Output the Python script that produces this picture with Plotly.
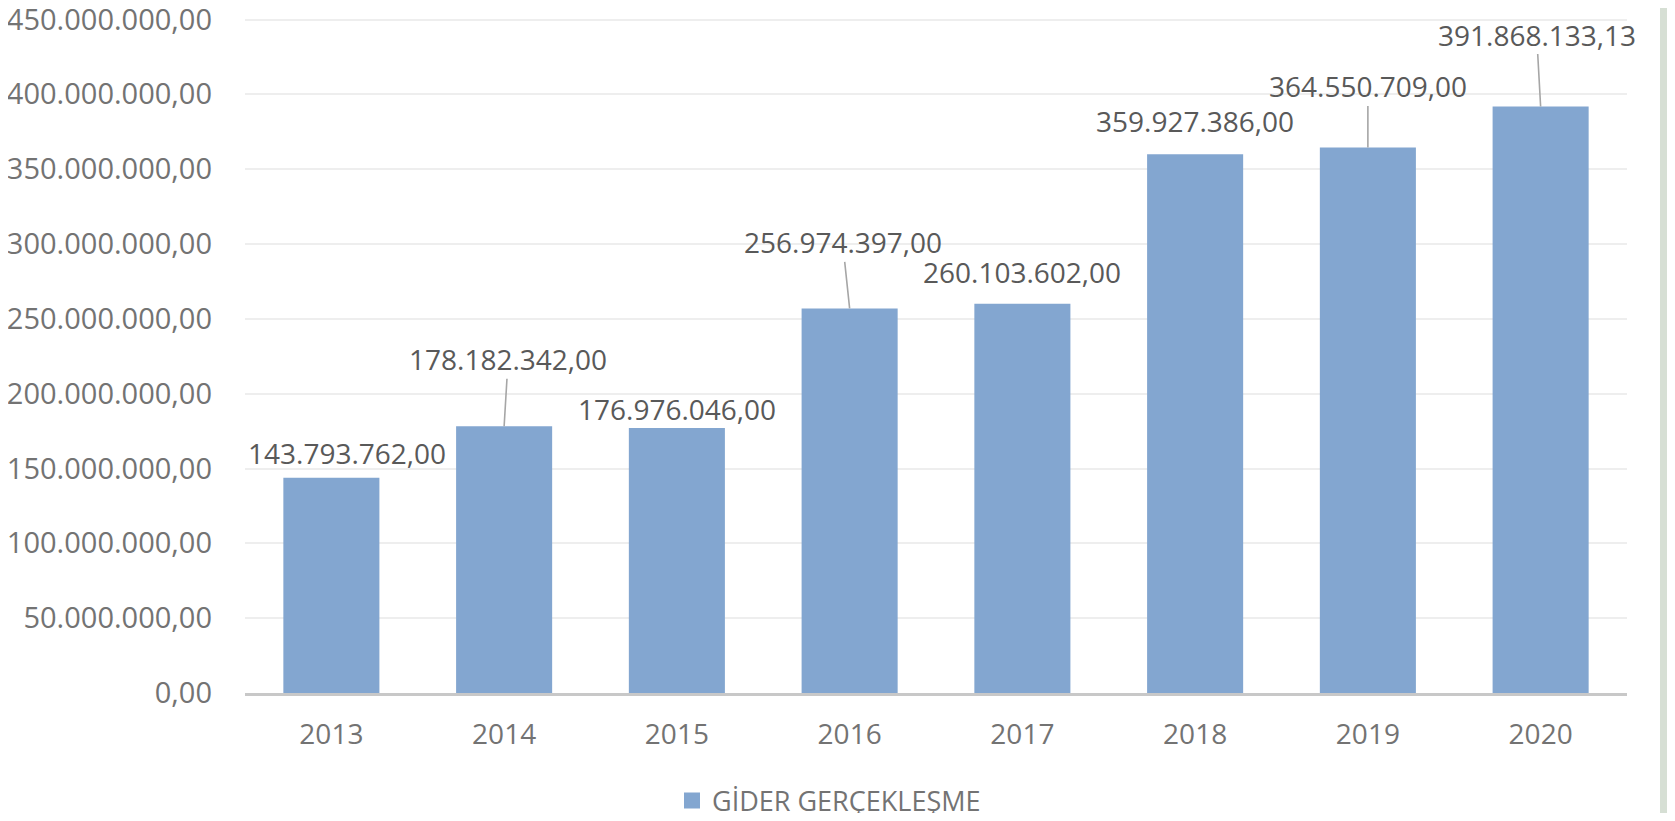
import plotly.graph_objects as go

# ---- data ----
years = ["2013", "2014", "2015", "2016", "2017", "2018", "2019", "2020"]
values = [143793762.00, 178182342.00, 176976046.00, 256974397.00,
          260103602.00, 359927386.00, 364550709.00, 391868133.13]
series_name = "GİDER GERÇEKLEŞME"
y_ticks = [0, 50e6, 100e6, 150e6, 200e6, 250e6, 300e6, 350e6, 400e6, 450e6]

# ---- label placement (style, pixel offsets) ----
label_dx = [16, 4, 0, -7, 0, 0, 0, -4]
label_dy = [-25, -67, -19, -66, -32, -33, -61, -72]
leader = [False, True, False, True, False, False, True, True]

BAR = "#83A6D0"
FONT = "Open Sans, Noto Sans, sans-serif"


def fmt_tr(v):
    s = f"{v:,.2f}"
    return s.replace(",", "X").replace(".", ",").replace("X", ".")


OFF = 8  # page body margin
W, H = 1675 - OFF, 821 - 2 * OFF
L, R, T, B = 245 - OFF, 48, 17.5 - OFF, 128 - OFF

fig = go.Figure()
fig.add_trace(go.Bar(x=years, y=values, marker=dict(color=BAR, line=dict(width=0)),
                     showlegend=False, hoverinfo="x+y"))
fig.add_trace(go.Scatter(x=[years[0]], y=[None], mode="markers", name=series_name,
                         marker=dict(symbol="square", size=16, color=BAR),
                         showlegend=True, hoverinfo="skip"))

for i, v in enumerate(values):
    # x given as the category index on the category axis
    fig.add_annotation(
        x=i, y=v, text=fmt_tr(v), showarrow=True, arrowhead=0,
        arrowwidth=1.6, arrowcolor="#A6A6A6" if leader[i] else "rgba(0,0,0,0)",
        ax=label_dx[i], ay=label_dy[i], xanchor="center", yanchor="middle",
        font=dict(family=FONT, size=28, color="#595959"), borderpad=0,
    )

pw = W - L - R
ph = H - T - B
# right decorative strip
fig.add_shape(type="rect", xref="paper", yref="paper",
              x0=(1660 - OFF - L) / pw, x1=(W + 5 - L) / pw,
              y0=-(B + 5) / ph, y1=(ph + T + 5) / ph,
              fillcolor="#D6DFD4", line=dict(width=0), layer="above")

fig.update_layout(
    width=W, height=H,
    margin=dict(l=L, r=R, t=T, b=B, autoexpand=False),
    paper_bgcolor="white", plot_bgcolor="white",
    separators=",.",
    bargap=0.444,
    font=dict(family=FONT, size=28, color="#737373"),
    legend=dict(orientation="h", x=(829 - OFF - L) / pw, xanchor="center",
                y=-(801 - OFF - (H - B)) / ph, yanchor="middle",
                font=dict(family=FONT, size=27, color="#737373"),
                itemwidth=30),
    xaxis=dict(type="category", categoryorder="array", categoryarray=years,
               range=[-0.5, len(years) - 0.5], automargin=False,
               showgrid=False, showline=True,
               linecolor="#C8C8C8", linewidth=3,
               ticks="", ticklabelstandoff=14,
               tickfont=dict(family=FONT, size=28, color="#737373")),
    yaxis=dict(range=[0, 451e6], tickvals=y_ticks, tickformat=",.2f",
               automargin=False,
               showgrid=True, gridcolor="#EEEEEE", gridwidth=2,
               zeroline=False, showline=False, ticks="",
               ticklabelstandoff=32, ticklabeloverflow="allow",
               tickfont=dict(family=FONT, size=29, color="#737373")),
)

fig.write_html("out.html")
